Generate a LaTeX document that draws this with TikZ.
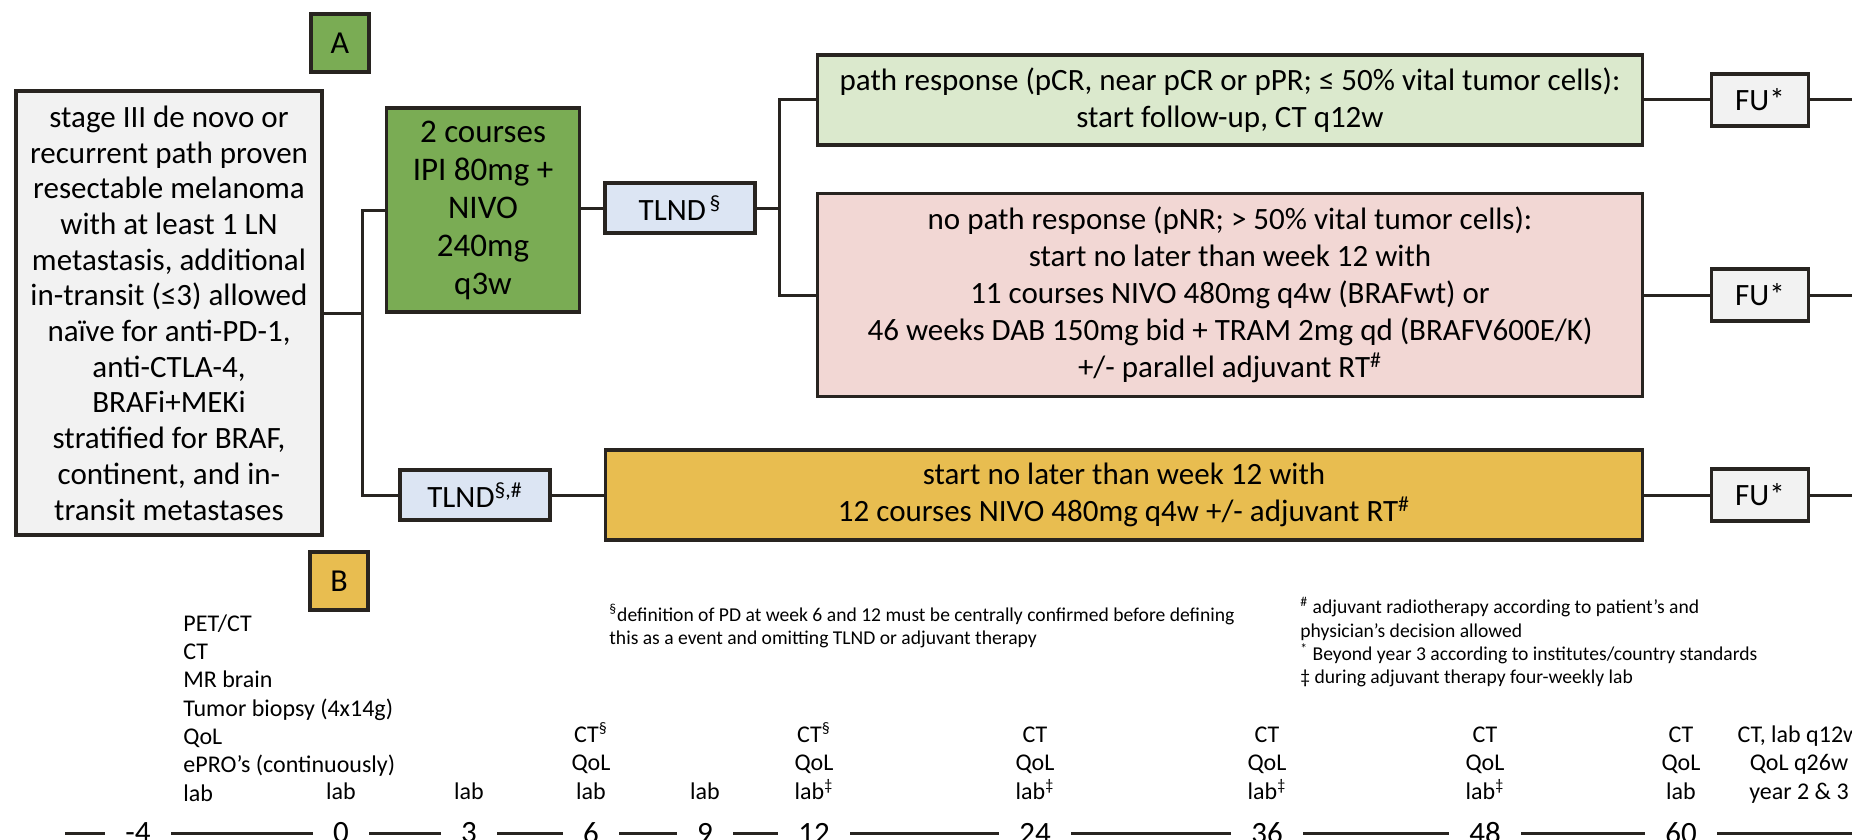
\documentclass[tikz,border=0pt]{standalone}
\usepackage{fontspec}
\setmainfont{Carlito}
\usetikzlibrary{positioning}
\definecolor{ctgreen}{RGB}{122,172,84}
\definecolor{ctlightgreen}{RGB}{219,233,205}
\definecolor{ctpink}{RGB}{242,215,212}
\definecolor{ctblue}{RGB}{220,229,243}
\definecolor{ctgold}{RGB}{232,189,80}
\definecolor{ctgrey}{RGB}{242,242,242}
\definecolor{ctline}{RGB}{40,36,32}
\newcommand{\boxfont}{\fontsize{15.5pt}{17.85pt}\selectfont}
\newcommand{\armfont}{\fontsize{15.5pt}{18.5pt}\selectfont}
\newcommand{\tlfont}{\fontsize{12pt}{14.15pt}\selectfont}
\newcommand{\numfont}{\fontsize{15.5pt}{18pt}\selectfont}
\newcommand{\notefont}{\fontsize{9.8pt}{11.6pt}\selectfont}

\begin{document}
\begin{tikzpicture}[x=0.5pt,y=-0.5pt,
  box/.style={draw=ctline,line width=1.9pt,align=center,inner sep=0pt,font=\boxfont},
  conn/.style={draw=ctline,line width=1.5pt},
  tag/.style={box,minimum width=29pt,minimum height=29pt,font=\fontsize{16pt}{18pt}\selectfont},
  fu/.style={box,fill=ctgrey,minimum width=48.5pt,minimum height=26pt},
  tlnd/.style={box,fill=ctblue,minimum width=75pt,minimum height=25pt},
  arm/.style={box,font=\armfont},
  week/.style={font=\numfont,inner xsep=10pt,inner ysep=0pt},
  visit/.style={font=\tlfont,align=center,anchor=south,inner sep=0pt},
  note/.style={font=\notefont,align=left,anchor=north west,inner sep=0pt}]
\useasboundingbox (0,0) rectangle (1852,840);

% Panel tags
\node[tag,fill=ctgreen] (labA) at (340,43) {A};
\node[tag,fill=ctgold] (labB) at (339,581) {B};

% Eligibility and induction
\node[box,fill=ctgrey,minimum width=153pt,minimum height=222pt] (elig) at (169,313)
  {stage III de novo or\\recurrent path proven\\resectable melanoma\\with at least 1 LN\\metastasis, additional\\in-transit (≤3) allowed\\naïve for anti-PD-1,\\anti-CTLA-4,\\BRAFi+MEKi\\stratified for BRAF,\\continent, and in-\\transit metastases};
\node[box,fill=ctgreen,minimum width=96.5pt,minimum height=102pt,font=\fontsize{16.5pt}{19pt}\selectfont] (ipi) at (483,210)
  {2 courses\\IPI 80mg +\\NIVO\\240mg\\q3w};
\node[tlnd] (tlndA) at (680,208) {TLND\textsuperscript{\,§}};
\node[tlnd] (tlndB) at (475,495) {TLND\textsuperscript{§,\#}};

% Adjuvant arms
\node[arm,fill=ctlightgreen,minimum width=412.5pt,minimum height=45pt] (resp) at (1230,100)
  {path response (pCR, near pCR or pPR; ≤ 50\% vital tumor cells):\\start follow-up, CT q12w};
\node[arm,fill=ctpink,minimum width=412.5pt,minimum height=101.5pt] (noresp) at (1230,295)
  {no path response (pNR; > 50\% vital tumor cells):\\start no later than week 12 with\\11 courses NIVO 480mg q4w (BRAFwt) or\\46 weeks DAB 150mg bid + TRAM 2mg qd (BRAFV600E/K)\\+/- parallel adjuvant RT\textsuperscript{\#}};
\node[arm,fill=ctgold,minimum width=518.5pt,minimum height=45pt] (adju) at (1124,495)
  {start no later than week 12 with\\12 courses NIVO 480mg q4w +/- adjuvant RT\textsuperscript{\#}};

% Follow-up
\foreach \n/\y in {1/100,2/295,3/495}
  \node[fu] (fu\n) at (1760,\y) {FU*};

% Connectors
\coordinate (j1) at (362,313);
\coordinate (j2) at (779,208);
\coordinate (edge) at (1852,0);
\draw[conn] (elig.east) -- (j1);
\draw[conn] (ipi.west) -| (j1) |- (tlndB.west);
\draw[conn] (ipi.east |- tlndA.west) -- (tlndA.west);
\draw[conn] (tlndA.east) -- (j2);
\draw[conn] (resp.west) -| (j2) |- (noresp.west);
\draw[conn] (tlndB.east) -- (adju.west);
\draw[conn] (resp.east) -- (fu1.west);
\draw[conn] (noresp.east) -- (fu2.west);
\draw[conn] (adju.east) -- (fu3.west);
\foreach \n in {1,2,3}
  \draw[conn] (fu\n.east) -- (fu\n.east -| edge);

% Footnotes
\node[note] (noteS) at (609,604) {\textsuperscript{§}definition of PD at week 6 and 12 must be centrally confirmed before defining\\this as a event and omitting TLND or adjuvant therapy};
\node[note] (noteR) at (1300,597) {\textsuperscript{\#} adjuvant radiotherapy according to patient’s and\\physician’s decision allowed\\\textsuperscript{*} Beyond year 3 according to institutes/country standards\\‡ during adjuvant therapy four-weekly lab};

% Timeline (weeks)
\foreach \wk/\x [count=\i] in {-4/138,0/341,3/469,6/591,9/705,12/814,24/1035,36/1267,48/1485,60/1681}
  \node[week] (w\i) at (\x,833) {\wk};
\coordinate (tlstart) at (65,833);
\draw[conn] (tlstart) -- (w1);
\foreach \i [evaluate=\i as \j using int(\i+1)] in {1,...,9}
  \draw[conn] (w\i) -- (w\j);
\draw[conn] (w10) -- (w10 -| edge);

% Visits
\node[visit,anchor=south west,align=left] (v0) at (183,810)
  {PET/CT\\CT\\MR brain\\Tumor biopsy (4x14g)\\QoL\\ePRO’s (continuously)\\lab\strut};
\foreach \x/\txt [count=\i] in {341/{lab}, 469/{lab}, 591/{CT\textsuperscript{§}\\QoL\\lab}, 705/{lab},
    814/{CT\textsuperscript{§}\\QoL\\lab\textsuperscript{‡}}, 1035/{CT\\QoL\\lab\textsuperscript{‡}},
    1267/{CT\\QoL\\lab\textsuperscript{‡}}, 1485/{CT\\QoL\\lab\textsuperscript{‡}}, 1681/{CT\\QoL\\lab}}
  \node[visit] (v\i) at (\x,808) {\txt\strut};
\node[visit] (vlast) at (1799,808) {CT, lab q12w\\QoL q26w\\year 2 \& 3\strut};
\end{tikzpicture}
\end{document}
